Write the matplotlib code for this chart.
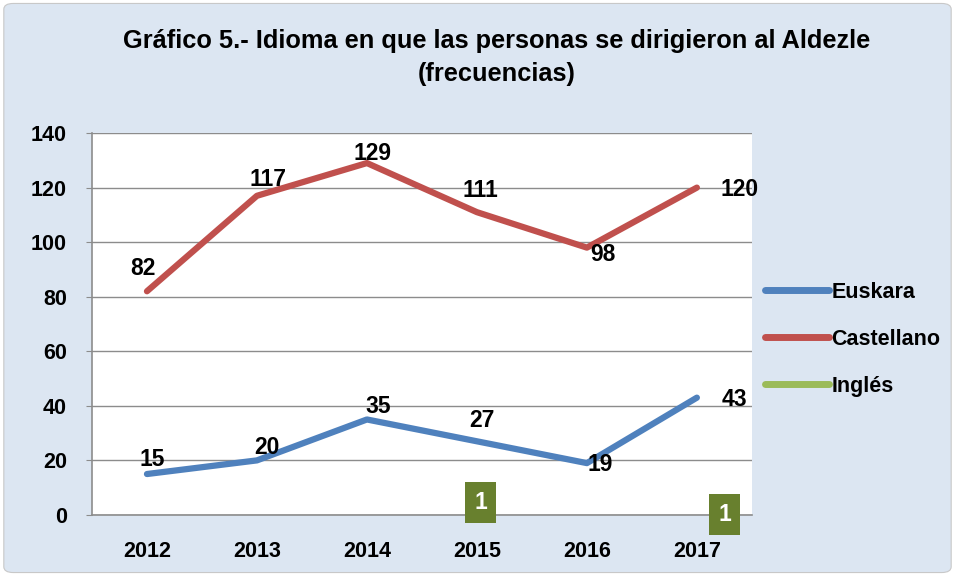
import matplotlib
matplotlib.use('Agg')
import numpy as np
from matplotlib import pyplot as plt
from matplotlib.patches import FancyBboxPatch

plt.rcParams['font.family'] = ['Liberation Sans', 'DejaVu Sans']

years = ['2012', '2013', '2014', '2015', '2016', '2017']
euskara = [15, 20, 35, 27, 19, 43]
castellano = [82, 117, 129, 111, 98, 120]
ingles = [np.nan, np.nan, np.nan, 1, np.nan, 1]

blue = '#4F81BD'
red = '#C0504D'
green = '#9BBB59'
bg = '#DCE6F2'

fig = plt.figure(figsize=(9.55, 5.76), dpi=100)
fig.patch.set_facecolor('white')
fig.patches.append(FancyBboxPatch((0.004, 0.006), 0.992, 0.988, boxstyle='round,pad=0,rounding_size=0.01',
                                  transform=fig.transFigure, facecolor=bg, edgecolor='#C8C8C8',
                                  linewidth=0.8, zorder=-10))

ax = fig.add_axes([0.0963, 0.106, 0.691, 0.663])
x = np.arange(len(years))
ax.plot(x, euskara, color=blue, lw=4.5, solid_capstyle='round', label='Euskara', zorder=3)
ax.plot(x, castellano, color=red, lw=4.5, solid_capstyle='round', label='Castellano', zorder=3)
ax.plot(x, ingles, color=green, lw=4.5, solid_capstyle='round', label='Inglés', zorder=3)

# label offsets in pixels
cas_off = [(-4, 23), (11, 16), (6, 10), (3, 22), (16, -7), (43, -2)]
eus_off = [(5, 15), (10, 13), (11, 13), (5, 21), (13, -1), (38, -2)]
ing_off = [(4, 10), (28, -2)]
lab = dict(fontsize=16.5, fontweight='bold', ha='center', va='center', textcoords='offset pixels')
for i, v in enumerate(castellano):
    ax.annotate(str(v), (x[i], v), xytext=cas_off[i], **lab)
for i, v in enumerate(euskara):
    ax.annotate(str(v), (x[i], v), xytext=eus_off[i], **lab)
k = 0
for i, v in enumerate(ingles):
    if not np.isnan(v):
        ax.annotate(str(int(v)), (x[i], v), xytext=ing_off[k], color='white',
                    bbox=dict(boxstyle='square,pad=0.4', fc='#68802E', ec='none'), **lab)
        k += 1

ax.set_xlim(-0.5, 5.5)
ax.set_ylim(0, 140)
ax.set_yticks(range(0, 141, 20))
ax.set_xticks(x)
ax.set_xticklabels(years)
ax.set_facecolor('white')
ax.grid(axis='y', color='#8C8C8C', lw=1)
ax.set_axisbelow(True)
for s in ['top', 'right']:
    ax.spines[s].set_visible(False)
for s in ['left', 'bottom']:
    ax.spines[s].set_color('#8C8C8C')
    ax.spines[s].set_linewidth(1.2)
ax.tick_params(axis='y', length=4, color='#8C8C8C', labelsize=15.5, pad=14)
ax.tick_params(axis='x', length=0, labelsize=15.5, pad=19)
for t in ax.get_xticklabels() + ax.get_yticklabels():
    t.set_fontweight('bold')

leg = ax.legend(loc='center left', bbox_to_anchor=(0.99, 0.46), frameon=False, fontsize=15.5,
                handlelength=3.0, handletextpad=0.1, labelspacing=1.2)
for t in leg.get_texts():
    t.set_fontweight('bold')
for h in leg.get_lines():
    h.set_linewidth(5)

fig.text(0.52, 0.90, 'Gráfico 5.- Idioma en que las personas se dirigieron al Aldezle\n(frecuencias)',
         ha='center', va='center', fontsize=18.3, fontweight='bold', linespacing=1.45)

fig.savefig('out.png', dpi=100, facecolor=fig.get_facecolor())
